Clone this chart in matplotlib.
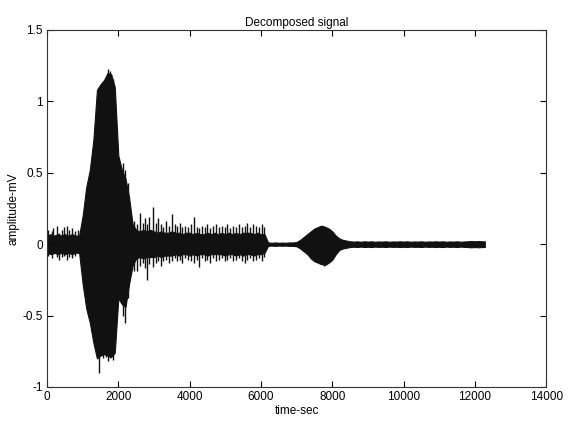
import matplotlib
matplotlib.use("Agg")
import matplotlib.pyplot as plt

plt.rcParams['font.family'] = ['Liberation Sans', 'DejaVu Sans']

# Core envelope of the decomposed signal (time in samples)
time = [0, 100, 200, 300, 400, 500, 600, 700, 800, 900,
        1000, 1100, 1200, 1300, 1400, 1500, 1600, 1700, 1800, 1900,
        2000, 2100, 2200, 2300, 2400, 2500, 2600, 2700, 2800, 2900,
        3000, 3100, 3200, 3300, 3400, 3500, 3600, 3700, 3800, 3900,
        4000, 4100, 4200, 4300, 4400, 4500, 4600, 4700, 4800, 4900,
        5000, 5100, 5200, 5300, 5400, 5500, 5600, 5700, 5800, 5900,
        6000, 6100, 6200, 6300, 6400, 6500, 6600, 6700, 6800, 6900,
        7000, 7100, 7200, 7300, 7400, 7500, 7600, 7700, 7800, 7900,
        8000, 8100, 8200, 8300, 8400, 8500, 8600, 8700, 8800, 8900,
        9000, 9100, 9200, 9300, 9400, 9500, 9600, 9700, 9800, 9900,
        10000, 10100, 10200, 10300, 10400, 10500, 10600, 10700, 10800, 10900,
        11000, 11100, 11200, 11300, 11400, 11500, 11600, 11700, 11800, 11900,
        12000, 12100, 12200, 12280]

upper = [0.06, 0.07, 0.06, 0.07, 0.06, 0.07, 0.06, 0.07, 0.06, 0.06,
         0.20, 0.40, 0.52, 0.73, 1.08, 1.12, 1.15, 1.20, 1.19, 1.10,
         0.62, 0.52, 0.46, 0.33, 0.14, 0.10, 0.09, 0.10, 0.09, 0.10,
         0.09, 0.08, 0.09, 0.08, 0.08, 0.09, 0.08, 0.08, 0.07, 0.08,
         0.08, 0.07, 0.08, 0.07, 0.07, 0.08, 0.07, 0.08, 0.07, 0.08,
         0.07, 0.08, 0.07, 0.08, 0.07, 0.08, 0.08, 0.08, 0.07, 0.08,
         0.07, 0.07, 0.012, 0.010, 0.012, 0.010, 0.011, 0.010, 0.012, 0.012,
         0.015, 0.03, 0.05, 0.07, 0.09, 0.11, 0.12, 0.13, 0.12, 0.11,
         0.09, 0.06, 0.04, 0.03, 0.025, 0.02, 0.018, 0.02, 0.017, 0.02,
         0.018, 0.02, 0.017, 0.019, 0.018, 0.02, 0.017, 0.019, 0.018, 0.02,
         0.018, 0.02, 0.017, 0.019, 0.018, 0.02, 0.017, 0.019, 0.018, 0.02,
         0.018, 0.02, 0.017, 0.019, 0.018, 0.02, 0.017, 0.019, 0.02, 0.022,
         0.02, 0.022, 0.02, 0.02]

lower = [-0.06, -0.07, -0.06, -0.07, -0.06, -0.07, -0.06, -0.07, -0.06, -0.06,
         -0.28, -0.45, -0.55, -0.69, -0.80, -0.78, -0.77, -0.78, -0.79, -0.76,
         -0.38, -0.42, -0.44, -0.28, -0.15, -0.10, -0.09, -0.10, -0.09, -0.09,
         -0.09, -0.08, -0.09, -0.08, -0.08, -0.08, -0.07, -0.08, -0.07, -0.07,
         -0.08, -0.07, -0.08, -0.07, -0.07, -0.08, -0.07, -0.07, -0.07, -0.07,
         -0.08, -0.07, -0.07, -0.08, -0.07, -0.08, -0.07, -0.07, -0.08, -0.07,
         -0.07, -0.06, -0.012, -0.010, -0.012, -0.010, -0.011, -0.010, -0.012, -0.012,
         -0.015, -0.03, -0.05, -0.07, -0.10, -0.12, -0.13, -0.14, -0.145, -0.13,
         -0.11, -0.07, -0.04, -0.03, -0.025, -0.02, -0.018, -0.02, -0.017, -0.02,
         -0.018, -0.02, -0.017, -0.019, -0.018, -0.02, -0.017, -0.019, -0.018, -0.02,
         -0.018, -0.02, -0.017, -0.019, -0.018, -0.02, -0.017, -0.019, -0.018, -0.02,
         -0.018, -0.02, -0.017, -0.019, -0.018, -0.02, -0.017, -0.019, -0.02, -0.022,
         -0.02, -0.022, -0.02, -0.02]

# Individual spikes sticking out of the core band
spike_time = [30, 130, 180, 280, 340, 420, 480, 550, 620, 700, 780, 860,
              1450, 1560, 1650, 1720, 1760, 1860, 2140, 2180, 2260,
              2450, 2520, 2610, 2680, 2750, 2800, 2870, 2980, 3050, 3120,
              3200, 3260, 3350, 3430, 3510, 3580, 3650, 3730, 3800, 3880,
              3950, 4030, 4125, 4200, 4265, 4340, 4420, 4500, 4580, 4660,
              4740, 4820, 4900, 4980, 5060, 5140, 5220, 5300, 5380, 5460,
              5540, 5620, 5700, 5780, 5860, 5940, 6020, 6100,
              7650, 7760, 7830]
spike_top = [0.10, 0.09, 0.11, 0.13, 0.08, 0.10, 0.12, 0.13, 0.10, 0.11, 0.09, 0.10,
             1.10, 1.05, 1.12, 1.23, 1.21, 1.16, 0.57, 0.52, 0.43,
             0.16, 0.14, 0.22, 0.15, 0.18, 0.14, 0.19, 0.26, 0.15, 0.18,
             0.14, 0.12, 0.16, 0.13, 0.21, 0.14, 0.13, 0.15, 0.12, 0.13,
             0.12, 0.14, 0.19, 0.12, 0.11, 0.13, 0.12, 0.14, 0.11, 0.13,
             0.14, 0.12, 0.13, 0.12, 0.14, 0.11, 0.13, 0.12, 0.14, 0.12,
             0.13, 0.15, 0.12, 0.14, 0.13, 0.12, 0.14, 0.12,
             0.125, 0.13, 0.12]
spike_bottom = [-0.08, -0.10, -0.07, -0.09, -0.11, -0.09, -0.08, -0.11, -0.09, -0.10, -0.08, -0.06,
                -0.90, -0.80, -0.79, -0.82, -0.80, -0.81, -0.50, -0.55, -0.38,
                -0.19, -0.19, -0.15, -0.13, -0.17, -0.25, -0.14, -0.16, -0.13, -0.12,
                -0.15, -0.12, -0.11, -0.13, -0.12, -0.10, -0.12, -0.11, -0.13, -0.10,
                -0.11, -0.12, -0.13, -0.11, -0.16, -0.10, -0.12, -0.11, -0.13, -0.10,
                -0.12, -0.11, -0.10, -0.12, -0.11, -0.10, -0.12, -0.11, -0.10, -0.12,
                -0.13, -0.11, -0.10, -0.12, -0.11, -0.10, -0.12, -0.09,
                -0.14, -0.15, -0.14]

x_ticks = [0, 2000, 4000, 6000, 8000, 10000, 12000, 14000]
y_ticks = [-1, -0.5, 0, 0.5, 1, 1.5]

fig = plt.figure(figsize=(5.77, 4.22), dpi=100)
ax = fig.add_axes([0.0815, 0.083, 0.865, 0.846])

ax.fill_between(time, lower, upper, color='#111111', linewidth=0.8, edgecolor='#111111')
ax.vlines(spike_time, spike_bottom, spike_top, color='#111111', linewidth=1.0)

ax.set_xlim(0, 14000)
ax.set_ylim(-1, 1.5)
ax.set_xticks(x_ticks)
ax.set_xticklabels([str(v) for v in x_ticks])
ax.set_yticks(y_ticks)
ax.set_yticklabels(['-1', '-0.5', '0', '0.5', '1', '1.5'])
ax.tick_params(direction='in', top=True, right=True, length=4, width=0.8,
               labelsize=8.5, pad=3)
for s in ax.spines.values():
    s.set_linewidth(0.8)
    s.set_color('#333333')

ax.set_title('Decomposed signal', fontsize=8.5, pad=3)
ax.set_xlabel('time-sec', fontsize=8.5, labelpad=1)
ax.set_ylabel('amplitude-mV', fontsize=8.5, labelpad=2)

fig.savefig('out.png', dpi=100)
